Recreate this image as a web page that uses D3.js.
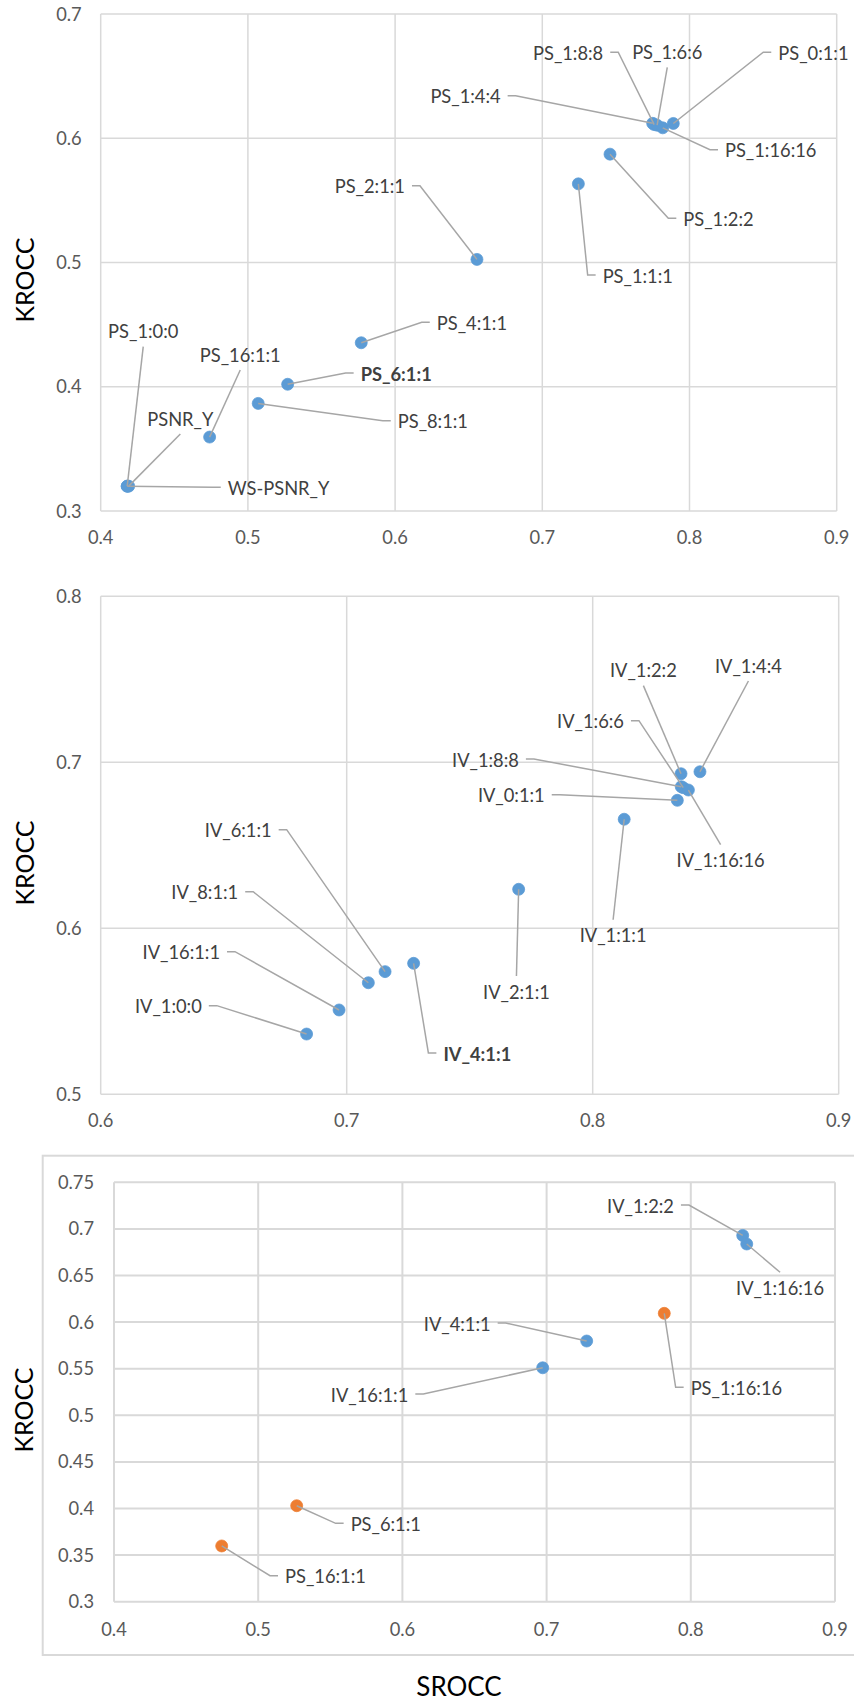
<!DOCTYPE html>
<html><head><meta charset="utf-8">
<script src="https://cdn.jsdelivr.net/npm/d3@7"></script>
<style>
body{margin:0;background:#fff;}
svg{display:block;}
text{font-family:Lato,"Open Sans",sans-serif;}
</style></head><body>
<svg id="c" width="854" height="1704"></svg>
<script>
// ---------- DATA ----------
// Chart 1 (PS metrics)
const names1  = ["PS_1:0:0","PSNR_Y","WS-PSNR_Y","PS_16:1:1","PS_8:1:1","PS_6:1:1","PS_4:1:1","PS_2:1:1","PS_1:1:1","PS_1:2:2","PS_1:4:4","PS_1:8:8","PS_1:6:6","PS_1:16:16","PS_0:1:1"];
const srocc1  = [0.418,0.419,0.418,0.474,0.507,0.527,0.577,0.6556,0.7245,0.746,0.775,0.776,0.778,0.7818,0.789];
const krocc1  = [0.320,0.320,0.320,0.3595,0.3866,0.402,0.4354,0.5025,0.5633,0.5872,0.612,0.611,0.6105,0.6084,0.6119];
const xTicks1 = [0.4,0.5,0.6,0.7,0.8,0.9];
const yTicks1 = [0.3,0.4,0.5,0.6,0.7];

// Chart 2 (IV metrics)
const names2  = ["IV_1:0:0","IV_16:1:1","IV_8:1:1","IV_6:1:1","IV_4:1:1","IV_2:1:1","IV_1:1:1","IV_0:1:1","IV_1:8:8","IV_1:6:6","IV_1:16:16","IV_1:2:2","IV_1:4:4"];
const srocc2  = [0.6837,0.6969,0.7088,0.7156,0.7272,0.7699,0.8128,0.8344,0.836,0.8368,0.8389,0.8359,0.8436];
const krocc2  = [0.5363,0.5508,0.5672,0.5739,0.5789,0.6235,0.6657,0.6771,0.6853,0.6847,0.6833,0.6931,0.6943];
const xTicks2 = [0.6,0.7,0.8,0.9];
const yTicks2 = [0.5,0.6,0.7,0.8];

// Chart 3 (selection: IV blue, PS orange)
const ivNames3 = ["IV_1:2:2","IV_1:16:16","IV_4:1:1","IV_16:1:1"];
const ivSrocc3 = [0.836,0.8388,0.7278,0.6973];
const ivKrocc3 = [0.693,0.6838,0.5797,0.551];
const psNames3 = ["PS_1:16:16","PS_6:1:1","PS_16:1:1"];
const psSrocc3 = [0.7816,0.5267,0.4747];
const psKrocc3 = [0.6094,0.403,0.3598];
const xTicks3 = [0.4,0.5,0.6,0.7,0.8,0.9];
const yTicks3 = [0.3,0.35,0.4,0.45,0.5,0.55,0.6,0.65,0.7,0.75];

// ---------- LAYOUT (label placement, in data units) ----------
const labels1 = [
 {n:"PS_1:8:8", lx:0.7414, ly:0.6684, side:"end"},
 {n:"PS_1:6:6", lx:0.7849, ly:0.6692, side:"above"},
 {n:"PS_0:1:1", lx:0.8603, ly:0.6684, side:"start"},
 {n:"PS_1:4:4", lx:0.6717, ly:0.6334, side:"end"},
 {n:"PS_1:16:16", lx:0.8241, ly:0.59, side:"start"},
 {n:"PS_1:2:2", lx:0.7958, ly:0.5348, side:"start"},
 {n:"PS_1:1:1", lx:0.741, ly:0.4891, side:"start"},
 {n:"PS_2:1:1", lx:0.6067, ly:0.561, side:"end"},
 {n:"PS_4:1:1", lx:0.6283, ly:0.4511, side:"start"},
 {n:"PS_6:1:1", lx:0.5766, ly:0.4103, side:"start", bold:true},
 {n:"PS_8:1:1", lx:0.6018, ly:0.3719, side:"start"},
 {n:"PS_16:1:1", lx:0.4948, ly:0.4256, side:"above"},
 {n:"PSNR_Y", lx:0.4541, ly:0.374, side:"above"},
 {n:"WS-PSNR_Y", lx:0.4863, ly:0.3183, side:"start"},
 {n:"PS_1:0:0", lx:0.4289, ly:0.4443, side:"above"}
];
const labels2 = [
 {n:"IV_1:2:2", lx:0.8206, ly:0.7552, side:"above"},
 {n:"IV_1:4:4", lx:0.8633, ly:0.758, side:"above"},
 {n:"IV_1:6:6", lx:0.8127, ly:0.7245, side:"end"},
 {n:"IV_1:8:8", lx:0.77, ly:0.7014, side:"end"},
 {n:"IV_0:1:1", lx:0.7805, ly:0.6799, side:"end"},
 {n:"IV_1:16:16", lx:0.852, ly:0.6407, side:"below"},
 {n:"IV_1:1:1", lx:0.8083, ly:0.5955, side:"below"},
 {n:"IV_2:1:1", lx:0.769, ly:0.5616, side:"below"},
 {n:"IV_6:1:1", lx:0.6695, ly:0.6588, side:"end"},
 {n:"IV_8:1:1", lx:0.6559, ly:0.6214, side:"end"},
 {n:"IV_16:1:1", lx:0.6485, ly:0.5853, side:"end"},
 {n:"IV_1:0:0", lx:0.6411, ly:0.5528, side:"end"},
 {n:"IV_4:1:1", lx:0.7393, ly:0.5243, side:"start", bold:true}
];
const labels3 = [
 {n:"IV_1:2:2", lx:0.7883, ly:0.7246, side:"end"},
 {n:"IV_1:16:16", lx:0.8619, ly:0.6363, side:"below"},
 {n:"IV_4:1:1", lx:0.6612, ly:0.598, side:"end"},
 {n:"IV_16:1:1", lx:0.6041, ly:0.5218, side:"end"},
 {n:"PS_1:16:16", lx:0.7999, ly:0.529, side:"start"},
 {n:"PS_6:1:1", lx:0.5641, ly:0.383, side:"start"},
 {n:"PS_16:1:1", lx:0.5186, ly:0.3268, side:"start"}
];

const BLUE = "#5B9BD5", ORANGE = "#ED7D31";
const GRID = "#D9D9D9", LEAD = "#A6A6A6", TICK = "#595959", LABEL = "#404040";
const FS = 18.3;
const fmt = d3.format(".2~f");
const svg = d3.select("#c");

function drawChart(cfg){
  const g = svg.append("g");
  const x = d3.scaleLinear().domain(cfg.xDom).range(cfg.xRange);
  const y = d3.scaleLinear().domain(cfg.yDom).range(cfg.yRange);
  const [x0,x1] = cfg.xRange, [y0,y1] = cfg.yRange;

  if (cfg.border) {
    g.append("rect").attr("x",cfg.border[0]).attr("y",cfg.border[1])
      .attr("width",cfg.border[2]).attr("height",cfg.border[3])
      .attr("fill","none").attr("stroke",GRID).attr("stroke-width",2);
  }
  g.append("g").selectAll("line").data(cfg.yTicks).join("line")
    .attr("x1",x0).attr("x2",x1).attr("y1",d=>y(d)).attr("y2",d=>y(d))
    .attr("stroke",GRID).attr("stroke-width",cfg.gw);
  g.append("g").selectAll("line").data(cfg.xTicks).join("line")
    .attr("y1",y0).attr("y2",y1).attr("x1",d=>x(d)).attr("x2",d=>x(d))
    .attr("stroke",GRID).attr("stroke-width",cfg.gw);
  g.append("g").selectAll("text").data(cfg.xTicks).join("text")
    .attr("x",d=>x(d)).attr("y",y0+cfg.xLabOff).attr("dy","0.36em")
    .attr("text-anchor","middle").attr("fill",TICK).attr("font-size",FS)
    .text(d=>fmt(d));
  g.append("g").selectAll("text").data(cfg.yTicks).join("text")
    .attr("x",x0-cfg.yLabOff).attr("y",d=>y(d)).attr("dy","0.36em")
    .attr("text-anchor","end").attr("fill",TICK).attr("font-size",FS)
    .text(d=>fmt(d));
  g.append("text").attr("transform",`translate(${cfg.yTitle[0]},${cfg.yTitle[1]}) rotate(-90)`)
    .attr("text-anchor","middle").attr("dy","0.36em").attr("font-size",25).attr("fill","#000")
    .text("KROCC");
  if (cfg.xTitle) {
    g.append("text").attr("x",cfg.xTitle[0]).attr("y",cfg.xTitle[1]).attr("dy","0.36em")
      .attr("text-anchor","middle").attr("font-size",26).attr("fill","#000").text("SROCC");
  }
  const pts = cfg.points;
  const byName = new Map(pts.map(p=>[p.n,p]));
  g.append("g").selectAll("circle").data(pts).join("circle")
    .attr("cx",d=>x(d.x)).attr("cy",d=>y(d.y)).attr("r",6)
    .attr("fill",d=>d.c).attr("stroke",d=>d.c).attr("stroke-width",0.75);
  const leadG = g.append("g");
  const lg = g.append("g");
  cfg.labels.forEach(l=>{
    const lx = x(l.lx), ly = y(l.ly);
    const anchor = l.side==="end" ? "end" : l.side==="start" ? "start" : "middle";
    lg.append("text").attr("x",lx).attr("y",ly).attr("dy","0.36em")
      .attr("text-anchor",anchor).attr("font-size",FS).attr("fill",LABEL)
      .attr("font-weight",l.bold?"bold":"normal").text(l.n);
    const p = byName.get(l.n);
    const px = x(p.x), py = y(p.y);
    let path;
    if (l.side==="end") path = [[lx+7,ly-1],[lx+15,ly-1],[px,py]];
    else if (l.side==="start") path = [[lx-7,ly-1],[lx-15,ly-1],[px,py]];
    else if (l.side==="above") path = [[lx,ly+15],[px,py]];
    else path = [[lx,ly-16],[px,py]];
    leadG.append("path").attr("d",d3.line()(path)).attr("fill","none")
      .attr("stroke",LEAD).attr("stroke-width",1.5);
  });
}

drawChart({
  xDom:[0.4,0.9], yDom:[0.3,0.7], xRange:[100.7,836.7], yRange:[511,14],
  xTicks:xTicks1, yTicks:yTicks1, gw:1.5, xLabOff:26, yLabOff:19,
  yTitle:[25,280],
  points: names1.map((n,i)=>({n, x:srocc1[i], y:krocc1[i], c:BLUE})),
  labels: labels1
});
drawChart({
  xDom:[0.6,0.9], yDom:[0.5,0.8], xRange:[100.7,838.7], yRange:[1094.3,596.3],
  xTicks:xTicks2, yTicks:yTicks2, gw:1.5, xLabOff:26.4, yLabOff:19,
  yTitle:[25,863],
  points: names2.map((n,i)=>({n, x:srocc2[i], y:krocc2[i], c:BLUE})),
  labels: labels2
});
drawChart({
  xDom:[0.4,0.9], yDom:[0.3,0.75], xRange:[114,835], yRange:[1601.7,1182.3],
  xTicks:xTicks3, yTicks:yTicks3, gw:2, xLabOff:27.6, yLabOff:20,
  yTitle:[24,1410], xTitle:[459,1687],
  border:[42.7,1155.7,900,499.3],
  points: ivNames3.map((n,i)=>({n, x:ivSrocc3[i], y:ivKrocc3[i], c:BLUE}))
    .concat(psNames3.map((n,i)=>({n, x:psSrocc3[i], y:psKrocc3[i], c:ORANGE}))),
  labels: labels3
});
</script>
</body></html>
